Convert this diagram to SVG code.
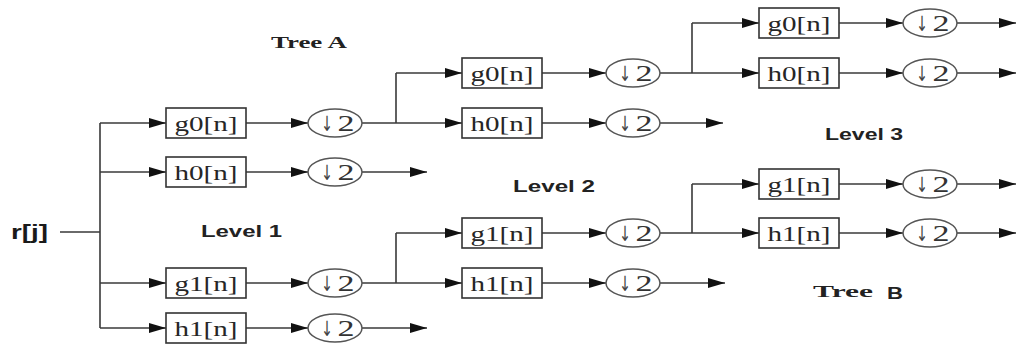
<svg xmlns="http://www.w3.org/2000/svg" width="1019" height="344" viewBox="0 0 1019 344">
  <style>
    .wire { fill: none; stroke: #3a3a3a; stroke-width: 1.6; }
    .arrow { fill: none; stroke: #3a3a3a; stroke-width: 1.6; marker-end: url(#head); }
    .box { fill: #ffffff; stroke: #333333; stroke-width: 1.6; }
    .down { fill: #ffffff; stroke: #555555; stroke-width: 1.5; }
    .flt { font-family: "Liberation Serif", "Times New Roman", serif; font-size: 22px; fill: #262626; text-anchor: middle; }
    .sym { font-family: "DejaVu Sans", sans-serif; font-size: 21px; fill: #444444; text-anchor: middle; }
    .two { font-family: "Liberation Serif", "Times New Roman", serif; font-size: 24px; fill: #333333; text-anchor: middle; }
    .lvl { font-family: "Liberation Sans", Arial, sans-serif; font-size: 16px; font-weight: bold; fill: #222222; }
    .tree { font-family: "Liberation Serif", "Times New Roman", serif; font-size: 17px; font-weight: bold; fill: #222222; }
  </style>
  <defs>
    <marker id="head" markerUnits="userSpaceOnUse" markerWidth="18" markerHeight="12" refX="17" refY="6" orient="auto">
      <path d="M0,1 L17,6 L0,11 Z" fill="#111111"/>
    </marker>
    <!-- filter block outline, centred vertically on its signal line -->
    <rect id="fbox" class="box" x="0" y="-15" width="80" height="30"/>
    <!-- downsampler outline -->
    <ellipse id="dn" class="down" cx="0" cy="0" rx="27" ry="14"/>
  </defs>

  <rect x="0" y="0" width="1019" height="344" fill="#ffffff"/>

  <!-- connectors -->
  <g id="connectors">
    <!-- input and level 1 trunk -->
    <path class="wire" d="M60,232 H100 M100,123 V328"/>
    <path class="arrow" d="M100,123 H166"/>
    <path class="arrow" d="M100,172 H166"/>
    <path class="arrow" d="M100,283 H166"/>
    <path class="arrow" d="M100,328 H166"/>
    <!-- level 1 filters to downsamplers -->
    <path class="arrow" d="M246,123 H308"/>
    <path class="arrow" d="M246,172 H308"/>
    <path class="arrow" d="M246,283 H308"/>
    <path class="arrow" d="M246,328 H308"/>
    <!-- level 1 outputs -->
    <path class="wire" d="M362,123 H396 M396,73 V123"/>
    <path class="arrow" d="M396,73 H462"/>
    <path class="arrow" d="M396,123 H462"/>
    <path class="arrow" d="M362,172 H427"/>
    <path class="wire" d="M362,283 H396 M396,233 V283"/>
    <path class="arrow" d="M396,233 H462"/>
    <path class="arrow" d="M396,283 H462"/>
    <path class="arrow" d="M362,328 H427"/>
    <!-- level 2 filters to downsamplers -->
    <path class="arrow" d="M542,73 H606"/>
    <path class="arrow" d="M542,123 H606"/>
    <path class="arrow" d="M542,233 H606"/>
    <path class="arrow" d="M542,283 H606"/>
    <!-- level 2 outputs -->
    <path class="wire" d="M660,73 H692 M692,23 V73"/>
    <path class="arrow" d="M692,23 H759"/>
    <path class="arrow" d="M692,73 H759"/>
    <path class="arrow" d="M660,123 H723"/>
    <path class="wire" d="M660,233 H692 M692,184 V233"/>
    <path class="arrow" d="M692,184 H759"/>
    <path class="arrow" d="M692,233 H759"/>
    <path class="arrow" d="M660,283 H725"/>
    <!-- level 3 filters to downsamplers -->
    <path class="arrow" d="M839,23 H903"/>
    <path class="arrow" d="M839,73 H903"/>
    <path class="arrow" d="M839,184 H903"/>
    <path class="arrow" d="M839,233 H903"/>
    <!-- level 3 outputs -->
    <path class="arrow" d="M957,23 H1016"/>
    <path class="arrow" d="M957,73 H1016"/>
    <path class="arrow" d="M957,184 H1016"/>
    <path class="arrow" d="M957,233 H1016"/>
  </g>

  <!-- input label -->
  <g id="input">
    <text x="11" y="239" font-family="Liberation Sans, Arial, sans-serif" font-size="20" font-weight="bold" fill="#1a1a1a" textLength="37" lengthAdjust="spacingAndGlyphs">r[j]</text>
  </g>

  <!-- level 1 filters -->
  <g id="L1-g0"><use href="#fbox" x="166" y="123"/><text class="flt" x="206" y="131" textLength="63" lengthAdjust="spacingAndGlyphs">g0[n]</text></g>
  <g id="L1-h0"><use href="#fbox" x="166" y="172"/><text class="flt" x="206" y="180" textLength="63" lengthAdjust="spacingAndGlyphs">h0[n]</text></g>
  <g id="L1-g1"><use href="#fbox" x="166" y="283"/><text class="flt" x="206" y="291" textLength="63" lengthAdjust="spacingAndGlyphs">g1[n]</text></g>
  <g id="L1-h1"><use href="#fbox" x="166" y="328"/><text class="flt" x="206" y="336" textLength="63" lengthAdjust="spacingAndGlyphs">h1[n]</text></g>

  <!-- level 1 downsamplers -->
  <g id="L1-d0"><use href="#dn" x="335" y="123"/><text class="sym" x="327" y="131" textLength="12" lengthAdjust="spacingAndGlyphs">↓</text><text class="two" x="346" y="131" textLength="17" lengthAdjust="spacingAndGlyphs">2</text></g>
  <g id="L1-d1"><use href="#dn" x="335" y="172"/><text class="sym" x="327" y="180" textLength="12" lengthAdjust="spacingAndGlyphs">↓</text><text class="two" x="346" y="180" textLength="17" lengthAdjust="spacingAndGlyphs">2</text></g>
  <g id="L1-d2"><use href="#dn" x="335" y="283"/><text class="sym" x="327" y="291" textLength="12" lengthAdjust="spacingAndGlyphs">↓</text><text class="two" x="346" y="291" textLength="17" lengthAdjust="spacingAndGlyphs">2</text></g>
  <g id="L1-d3"><use href="#dn" x="335" y="328"/><text class="sym" x="327" y="336" textLength="12" lengthAdjust="spacingAndGlyphs">↓</text><text class="two" x="346" y="336" textLength="17" lengthAdjust="spacingAndGlyphs">2</text></g>

  <!-- level 2 filters -->
  <g id="L2-g0"><use href="#fbox" x="462" y="73"/><text class="flt" x="502" y="81" textLength="63" lengthAdjust="spacingAndGlyphs">g0[n]</text></g>
  <g id="L2-h0"><use href="#fbox" x="462" y="123"/><text class="flt" x="502" y="131" textLength="63" lengthAdjust="spacingAndGlyphs">h0[n]</text></g>
  <g id="L2-g1"><use href="#fbox" x="462" y="233"/><text class="flt" x="502" y="241" textLength="63" lengthAdjust="spacingAndGlyphs">g1[n]</text></g>
  <g id="L2-h1"><use href="#fbox" x="462" y="283"/><text class="flt" x="502" y="291" textLength="63" lengthAdjust="spacingAndGlyphs">h1[n]</text></g>

  <!-- level 2 downsamplers -->
  <g id="L2-d0"><use href="#dn" x="633" y="73"/><text class="sym" x="625" y="81" textLength="12" lengthAdjust="spacingAndGlyphs">↓</text><text class="two" x="644" y="81" textLength="17" lengthAdjust="spacingAndGlyphs">2</text></g>
  <g id="L2-d1"><use href="#dn" x="633" y="123"/><text class="sym" x="625" y="131" textLength="12" lengthAdjust="spacingAndGlyphs">↓</text><text class="two" x="644" y="131" textLength="17" lengthAdjust="spacingAndGlyphs">2</text></g>
  <g id="L2-d2"><use href="#dn" x="633" y="233"/><text class="sym" x="625" y="241" textLength="12" lengthAdjust="spacingAndGlyphs">↓</text><text class="two" x="644" y="241" textLength="17" lengthAdjust="spacingAndGlyphs">2</text></g>
  <g id="L2-d3"><use href="#dn" x="633" y="283"/><text class="sym" x="625" y="291" textLength="12" lengthAdjust="spacingAndGlyphs">↓</text><text class="two" x="644" y="291" textLength="17" lengthAdjust="spacingAndGlyphs">2</text></g>

  <!-- level 3 filters -->
  <g id="L3-g0"><use href="#fbox" x="759" y="23"/><text class="flt" x="799" y="31" textLength="63" lengthAdjust="spacingAndGlyphs">g0[n]</text></g>
  <g id="L3-h0"><use href="#fbox" x="759" y="73"/><text class="flt" x="799" y="81" textLength="63" lengthAdjust="spacingAndGlyphs">h0[n]</text></g>
  <g id="L3-g1"><use href="#fbox" x="759" y="184"/><text class="flt" x="799" y="192" textLength="63" lengthAdjust="spacingAndGlyphs">g1[n]</text></g>
  <g id="L3-h1"><use href="#fbox" x="759" y="233"/><text class="flt" x="799" y="241" textLength="63" lengthAdjust="spacingAndGlyphs">h1[n]</text></g>

  <!-- level 3 downsamplers -->
  <g id="L3-d0"><use href="#dn" x="930" y="23"/><text class="sym" x="922" y="31" textLength="12" lengthAdjust="spacingAndGlyphs">↓</text><text class="two" x="941" y="31" textLength="17" lengthAdjust="spacingAndGlyphs">2</text></g>
  <g id="L3-d1"><use href="#dn" x="930" y="73"/><text class="sym" x="922" y="81" textLength="12" lengthAdjust="spacingAndGlyphs">↓</text><text class="two" x="941" y="81" textLength="17" lengthAdjust="spacingAndGlyphs">2</text></g>
  <g id="L3-d2"><use href="#dn" x="930" y="184"/><text class="sym" x="922" y="192" textLength="12" lengthAdjust="spacingAndGlyphs">↓</text><text class="two" x="941" y="192" textLength="17" lengthAdjust="spacingAndGlyphs">2</text></g>
  <g id="L3-d3"><use href="#dn" x="930" y="233"/><text class="sym" x="922" y="241" textLength="12" lengthAdjust="spacingAndGlyphs">↓</text><text class="two" x="941" y="241" textLength="17" lengthAdjust="spacingAndGlyphs">2</text></g>

  <!-- captions -->
  <g id="labels">
    <text class="tree" x="271" y="48" textLength="76" lengthAdjust="spacingAndGlyphs">Tree A</text>
    <text class="lvl" x="201" y="237" textLength="81" lengthAdjust="spacingAndGlyphs">Level 1</text>
    <text class="lvl" x="513" y="192" textLength="82" lengthAdjust="spacingAndGlyphs">Level 2</text>
    <text class="lvl" x="825" y="140" textLength="78" lengthAdjust="spacingAndGlyphs">Level 3</text>
    <text class="tree" x="813" y="297" textLength="60" lengthAdjust="spacingAndGlyphs">Tree</text>
    <text class="lvl" x="887" y="299" textLength="16" lengthAdjust="spacingAndGlyphs">B</text>
  </g>
</svg>
